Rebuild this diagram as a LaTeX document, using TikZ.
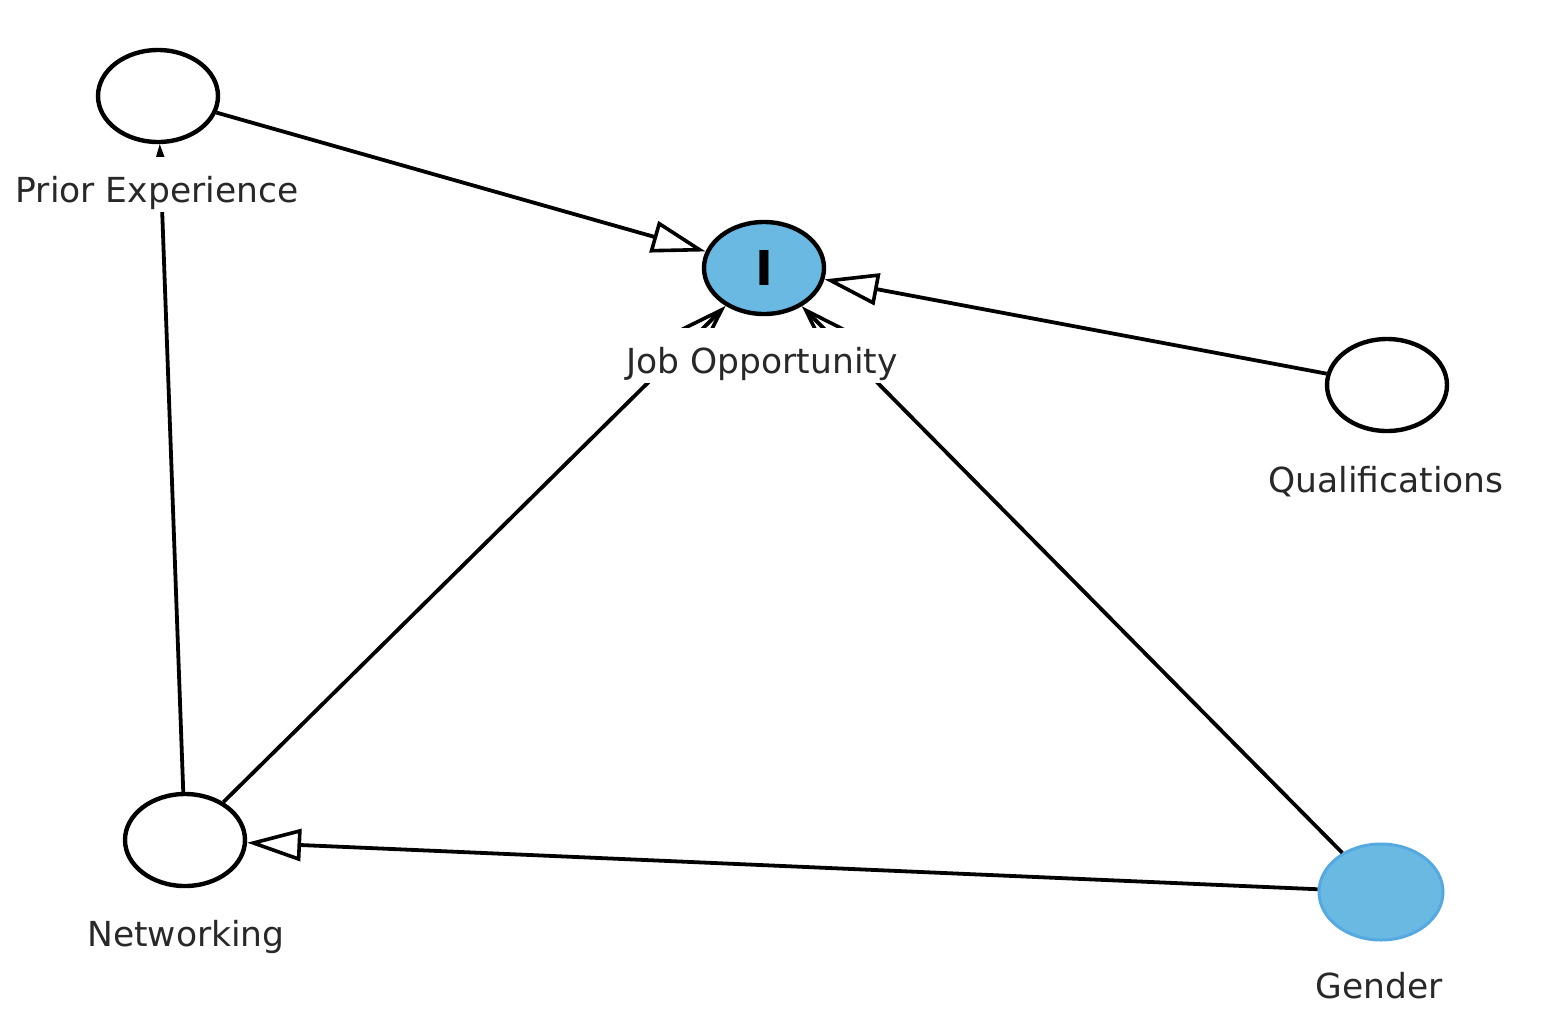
\documentclass[tikz,border=0pt]{standalone}
\usepackage{fontspec}
\setmainfont{DejaVu Sans}
\usetikzlibrary{arrows.meta,shapes.geometric}
\definecolor{jobblue}{RGB}{106,185,227}
\definecolor{gendblue}{RGB}{84,170,224}
\definecolor{txt}{RGB}{40,40,40}
\begin{document}
\begin{tikzpicture}[x=1pt,y=-1pt,
  var/.style={ellipse, draw=black, line width=4.4pt, minimum width=120pt, minimum height=92pt, inner sep=0pt},
  lbl/.style={fill=white, font=\fontsize{34.5}{40}\selectfont, text=txt, anchor=base,
              inner xsep=4pt, inner ysep=1pt, text height=44pt, text depth=9pt},
  edge/.style={line width=3.8pt, draw=black},
  tri/.style={-{Triangle[open,length=54pt,width=32pt,line width=3.6pt]}},
  barb/.style={-{Straight Barb[length=42pt,width=28pt,line width=3.6pt]}}]
\useasboundingbox (0,0) rectangle (1564,1026);
% variables
\node[var] (prior) at (158,96) {};
\node[var, fill=jobblue] (job) at (764,268) {};
\node[var] (qual) at (1387,385) {};
\node[var] (net) at (185,840) {};
\node[var, fill=jobblue, draw=gendblue, line width=3pt, minimum width=124pt, minimum height=96pt] (gender) at (1381,892) {};
% "I" mark inside Job Opportunity
\node[font=\fontsize{48}{48}\bfseries, inner sep=0pt] (jobmark) at (job.center) {I};
% edges
\draw[edge, tri] (prior) -- (job);
\draw[edge, tri] (qual) -- (job);
\draw[edge, tri] (gender) -- (net);
\draw[edge, barb] (net) -- (job);
\draw[edge, barb] (gender) -- (job);
\draw[edge, barb] (net) -- (prior);
% labels
\node[lbl] (lprior) at (157,202) {Prior Experience};
\node[lbl] (ljob) at (762,373) {Job Opportunity};
\node[lbl] (lqual) at (1386,492) {Qualifications};
\node[lbl] (lnet) at (186,946) {Networking};
\node[lbl] (lgender) at (1379,998) {Gender};
\end{tikzpicture}
\end{document}
